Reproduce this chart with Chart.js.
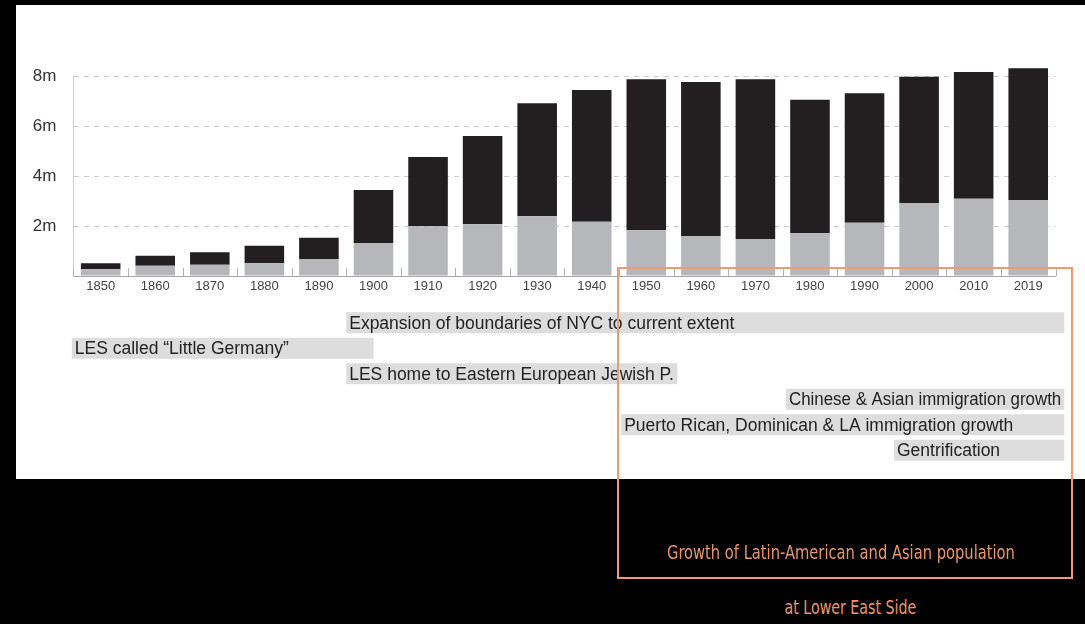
<!DOCTYPE html>
<html><head><meta charset="utf-8">
<script src="https://cdn.jsdelivr.net/npm/chart.js@4"></script>
<style>
html,body{margin:0;padding:0;background:#000;width:1085px;height:624px;overflow:hidden;font-family:"Liberation Sans",Arial,sans-serif;}
#panel{position:absolute;left:16px;top:5px;width:1069px;height:474px;background:#fff;}
#c1{position:absolute;left:0;top:0;}
#c2{position:absolute;left:0;top:309.5px;}
#hl{position:absolute;left:617px;top:267px;width:452px;height:308px;border:2px solid #ef9a74;pointer-events:none;}
.cap{position:absolute;color:#ea966c;font-family:"Liberation Sans Narrow","DejaVu Sans Condensed","Open Sans",sans-serif;font-size:20px;white-space:nowrap;transform-origin:center center;}
</style></head>
<body>
<div id="panel"></div>
<canvas id="c1" width="1085" height="300"></canvas>
<canvas id="c2" width="1085" height="153"></canvas>
<div id="hl"></div>
<div class="cap" id="cap1">Growth of Latin-American and Asian population</div>
<div class="cap" id="cap2">at Lower East Side</div>
<script>
// ---- data ----
const years = ['1850','1860','1870','1880','1890','1900','1910','1920','1930','1940','1950','1960','1970','1980','1990','2000','2010','2019'];
// lower (grey) segment, millions
const greySegment = [0.27,0.41,0.45,0.51,0.68,1.31,1.99,2.07,2.39,2.17,1.83,1.60,1.48,1.71,2.13,2.92,3.09,3.04];
// upper (black) segment, millions
const blackSegment = [0.24,0.40,0.50,0.70,0.85,2.13,2.77,3.53,4.52,5.27,6.04,6.16,6.39,5.34,5.18,5.05,5.07,5.27];
const yTickValues = [0,2,4,6,8];

// timeline events (positions in category-index units of the year axis)
const eventLabels = ['Expansion of boundaries of NYC to current extent','LES called \u201cLittle Germany\u201d','LES home to Eastern European Jewish P.','Chinese & Asian immigration growth','Puerto Rican, Dominican & LA immigration growth','Gentrification'];
const eventStart = [4.5,-0.53,4.5,12.56,9.54,14.54];
const eventEnd   = [17.66,5.0,10.57,17.66,17.66,17.66];

const innerTicks = {id:'innerTicks', afterDatasetsDraw(chart){
  const x = chart.scales.x, ca = chart.chartArea, ctx = chart.ctx;
  ctx.save(); ctx.strokeStyle = '#b5b5b5'; ctx.lineWidth = 1;
  for (let i = 0; i <= chart.data.labels.length; i++) {
    const px = Math.round(x.getPixelForValue(i - 0.5)) + 0.5;
    ctx.beginPath(); ctx.moveTo(px, ca.bottom); ctx.lineTo(px, ca.bottom - 8); ctx.stroke();
  }
  ctx.restore();
}};

new Chart(document.getElementById('c1'), {
  type: 'bar',
  data: {labels: years, datasets: [
    {data: greySegment, backgroundColor: '#b6b7ba', stack: 's', clip: false},
    {data: blackSegment, backgroundColor: '#231f20', stack: 's', clip: false}
  ]},
  options: {
    responsive: false, animation: false, devicePixelRatio: 1,
    layout: {padding: {left: 0, right: 29.5, top: 76, bottom: 0}},
    plugins: {legend: {display: false}, tooltip: {enabled: false}},
    datasets: {bar: {barPercentage: 0.725, categoryPercentage: 1}},
    scales: {
      x: {stacked: true, grid: {display: false, drawTicks: false}, border: {color: '#a8a8a8', width: 1},
          ticks: {color: '#444', font: {size: 13, family: 'Liberation Sans'}, padding: 3, maxRotation: 0, autoSkip: false},
          afterFit(s){ s.height = 24; }},
      y: {stacked: true, min: 0, max: 8,
          afterBuildTicks(s){ s.ticks = yTickValues.map(v => ({value: v})); },
          ticks: {callback: v => v ? v + 'm' : '', color: '#333', font: {size: 17, family: 'Liberation Sans'}, padding: 17},
          grid: {color: '#cccccc', drawTicks: false, lineWidth: 1},
          border: {color: '#cccccc', dash: [5,5]},
          afterFit(s){ s.width = 73.4; s.paddingTop = 0; s.paddingBottom = 0; }}
    }
  },
  plugins: [innerTicks]
});

const bandText = {id:'bandText', afterDatasetsDraw(chart){
  const ctx = chart.ctx, meta = chart.getDatasetMeta(0);
  ctx.save(); ctx.fillStyle = '#222'; ctx.font = '17.5px "Liberation Sans", Arial, sans-serif';
  ctx.textAlign = 'left'; ctx.textBaseline = 'middle';
  meta.data.forEach((el, i) => {
    const l = Math.min(el.base, el.x), r = Math.max(el.base, el.x);
    ctx.fillText(chart.data.labels[i], l + 3, el.y + 1, r - l - 6);
  });
  ctx.restore();
}};

new Chart(document.getElementById('c2'), {
  type: 'bar',
  data: {labels: eventLabels, datasets: [{
    data: eventLabels.map((_, i) => [eventStart[i], eventEnd[i]]),
    backgroundColor: '#dddddd', clip: false, barPercentage: 0.83, categoryPercentage: 1
  }]},
  options: {
    indexAxis: 'y', responsive: false, animation: false, devicePixelRatio: 1,
    layout: {padding: {left: 73.4, right: 29.5, top: 0, bottom: 0}},
    plugins: {legend: {display: false}, tooltip: {enabled: false}},
    scales: {x: {type: 'linear', min: -0.5, max: 17.5, display: false}, y: {display: false}}
  },
  plugins: [bandText]
});

function fitCap(id, cx, cy, targetW){
  const el = document.getElementById(id);
  const w = el.offsetWidth, h = el.offsetHeight;
  el.style.left = (cx - w/2) + 'px';
  el.style.top = (cy - h/2) + 'px';
  el.style.transform = 'scaleX(' + (targetW / w) + ')';
}
fitCap('cap1', 841, 552, 348);
fitCap('cap2', 850, 607, 132);
</script>
</body></html>
